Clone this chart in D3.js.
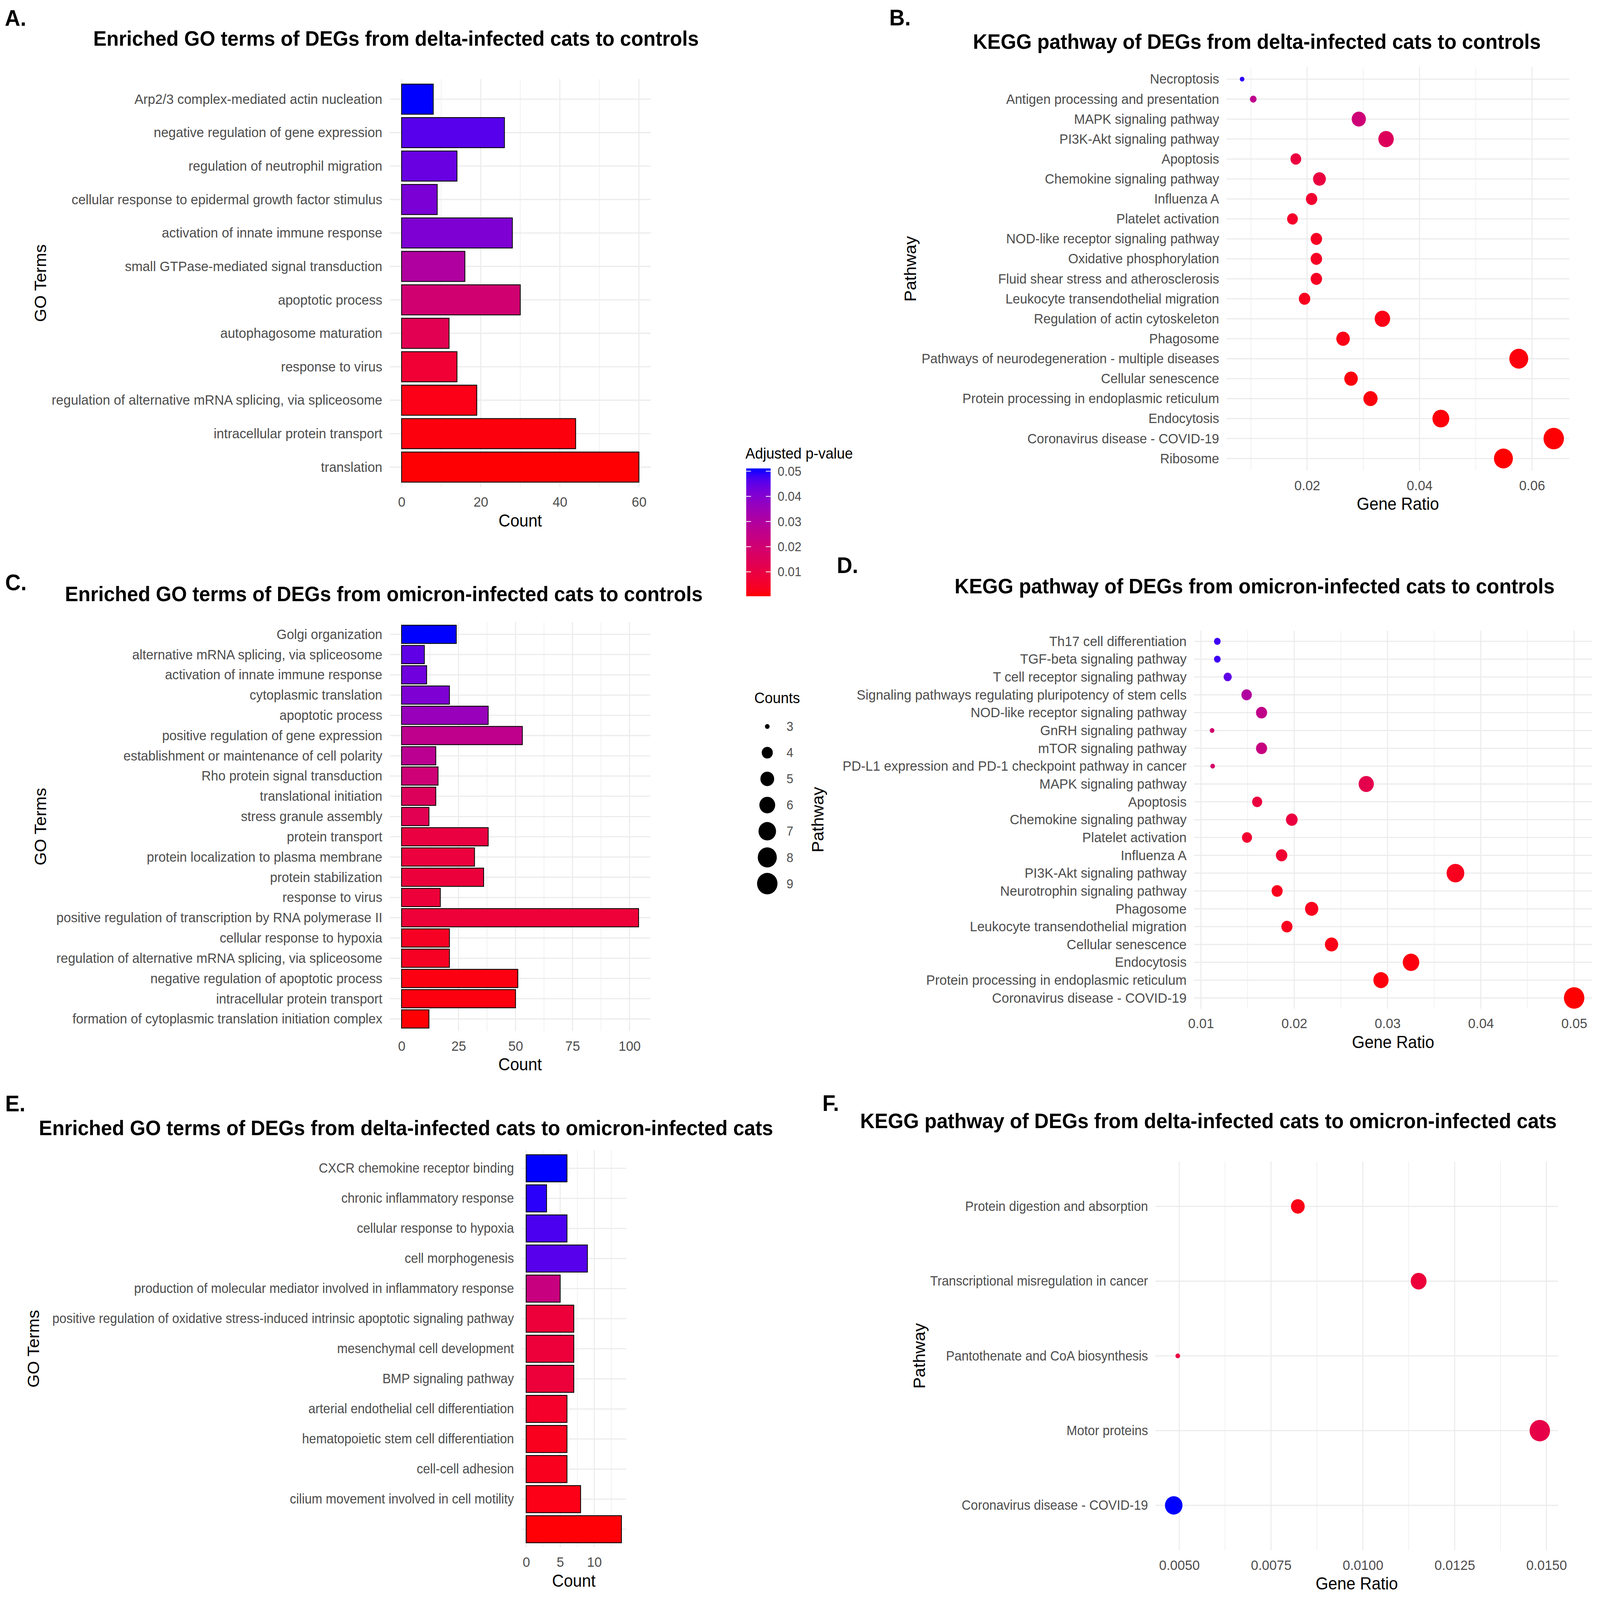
<!DOCTYPE html>
<html>
<head>
<meta charset="utf-8">
<script src="https://cdn.jsdelivr.net/npm/d3@7"></script>
<style>
  html, body { margin: 0; padding: 0; width: 100%; height: 100%; overflow: hidden; background: #fff; }
  svg { display: block; width: 100vw; height: 100vh; }
  text { font-family: "Liberation Sans", Arial, Helvetica, sans-serif; }
</style>
</head>
<body>
<svg id="fig" viewBox="0 0 4327 4114" preserveAspectRatio="none"></svg>
<script>
// ---- data: GO, delta vs controls (A)
const goDeltaTerms = [
  'Arp2/3 complex-mediated actin nucleation', 'negative regulation of gene expression',
  'regulation of neutrophil migration', 'cellular response to epidermal growth factor stimulus',
  'activation of innate immune response', 'small GTPase-mediated signal transduction',
  'apoptotic process', 'autophagosome maturation', 'response to virus',
  'regulation of alternative mRNA splicing, via spliceosome', 'intracellular protein transport',
  'translation'
];
const goDeltaCounts = [8, 26, 14, 9, 28, 16, 30, 12, 14, 19, 44, 60];
const goDeltaPadj = [0.050, 0.046, 0.044, 0.0415, 0.041, 0.030, 0.020, 0.013, 0.007, 0.002, 0.001, 0.0003];
const goDeltaTicks = [0, 20, 40, 60];
const goDeltaMinor = [10, 30, 50];

// ---- data: KEGG, delta vs controls (B)
const keggDeltaPathways = [
  'Necroptosis', 'Antigen processing and presentation', 'MAPK signaling pathway',
  'PI3K-Akt signaling pathway', 'Apoptosis', 'Chemokine signaling pathway', 'Influenza A',
  'Platelet activation', 'NOD-like receptor signaling pathway', 'Oxidative phosphorylation',
  'Fluid shear stress and atherosclerosis', 'Leukocyte transendothelial migration',
  'Regulation of actin cytoskeleton', 'Phagosome',
  'Pathways of neurodegeneration - multiple diseases', 'Cellular senescence',
  'Protein processing in endoplasmic reticulum', 'Endocytosis',
  'Coronavirus disease - COVID-19', 'Ribosome'
];
const keggDeltaRatio = [0.00844, 0.01042, 0.02920, 0.03405, 0.01800, 0.02220, 0.02080, 0.01740,
  0.02165, 0.02165, 0.02165, 0.01955, 0.03340, 0.02640, 0.05766, 0.02782, 0.03128, 0.04380,
  0.06388, 0.05493];
const keggDeltaCounts = [3, 3.1, 5.2, 5.8, 3.9, 4.6, 4.1, 3.9, 4.1, 4.1, 4.1, 4.1, 5.8, 4.9, 7.9,
  4.9, 5.2, 6.6, 9, 7.9];
const keggDeltaPadj = [0.049, 0.026, 0.021, 0.015, 0.009, 0.009, 0.006, 0.005, 0.004, 0.004,
  0.004, 0.003, 0.002, 0.002, 0.001, 0.001, 0.001, 0.0008, 0.0003, 0.0001];
const keggDeltaTicks = [0.02, 0.04, 0.06];
const keggDeltaMinor = [0.01, 0.03, 0.05];

// ---- data: GO, omicron vs controls (C)
const goOmicronTerms = [
  'Golgi organization', 'alternative mRNA splicing, via spliceosome',
  'activation of innate immune response', 'cytoplasmic translation', 'apoptotic process',
  'positive regulation of gene expression', 'establishment or maintenance of cell polarity',
  'Rho protein signal transduction', 'translational initiation', 'stress granule assembly',
  'protein transport', 'protein localization to plasma membrane', 'protein stabilization',
  'response to virus', 'positive regulation of transcription by RNA polymerase II',
  'cellular response to hypoxia', 'regulation of alternative mRNA splicing, via spliceosome',
  'negative regulation of apoptotic process', 'intracellular protein transport',
  'formation of cytoplasmic translation initiation complex'
];
const goOmicronCounts = [24, 10, 11, 21, 38, 53, 15, 16, 15, 12, 38, 32, 36, 17, 104, 21, 21, 51, 50, 12];
const goOmicronPadj = [0.050, 0.045, 0.043, 0.041, 0.036, 0.026, 0.027, 0.021, 0.015, 0.013,
  0.0095, 0.0088, 0.0085, 0.008, 0.0078, 0.004, 0.004, 0.0015, 0.0012, 0.0003];
const goOmicronTicks = [0, 25, 50, 75, 100];
const goOmicronMinor = [12.5, 37.5, 62.5, 87.5];

// ---- data: KEGG, omicron vs controls (D)
const keggOmicronPathways = [
  'Th17 cell differentiation', 'TGF-beta signaling pathway', 'T cell receptor signaling pathway',
  'Signaling pathways regulating pluripotency of stem cells', 'NOD-like receptor signaling pathway',
  'GnRH signaling pathway', 'mTOR signaling pathway',
  'PD-L1 expression and PD-1 checkpoint pathway in cancer', 'MAPK signaling pathway', 'Apoptosis',
  'Chemokine signaling pathway', 'Platelet activation', 'Influenza A', 'PI3K-Akt signaling pathway',
  'Neurotrophin signaling pathway', 'Phagosome', 'Leukocyte transendothelial migration',
  'Cellular senescence', 'Endocytosis', 'Protein processing in endoplasmic reticulum',
  'Coronavirus disease - COVID-19'
];
const keggOmicronRatio = [0.01176, 0.01176, 0.01287, 0.0149, 0.0165, 0.0112, 0.0165, 0.01126,
  0.02772, 0.01603, 0.01974, 0.01494, 0.01865, 0.03728, 0.01817, 0.02187, 0.01922, 0.0240,
  0.03252, 0.0293, 0.05];
const keggOmicronCounts = [3.1, 3.1, 3.3, 3.8, 4, 3, 4, 3, 5.7, 3.7, 4.2, 3.7, 4.1, 7.1, 4, 4.8,
  4, 4.8, 6.4, 5.7, 9];
const keggOmicronPadj = [0.048, 0.048, 0.045, 0.030, 0.025, 0.019, 0.023, 0.018, 0.012, 0.009,
  0.009, 0.006, 0.0065, 0.003, 0.003, 0.003, 0.003, 0.002, 0.001, 0.001, 0.0001];
const keggOmicronTicks = [0.01, 0.02, 0.03, 0.04, 0.05];
const keggOmicronMinor = [0.015, 0.025, 0.035, 0.045];

// ---- data: GO, delta vs omicron (E)
const goDvoTerms = [
  'CXCR chemokine receptor binding', 'chronic inflammatory response', 'cellular response to hypoxia',
  'cell morphogenesis', 'production of molecular mediator involved in inflammatory response',
  'positive regulation of oxidative stress-induced intrinsic apoptotic signaling pathway',
  'mesenchymal cell development', 'BMP signaling pathway', 'arterial endothelial cell differentiation',
  'hematopoietic stem cell differentiation', 'cell-cell adhesion',
  'cilium movement involved in cell motility', ''
];
const goDvoCounts = [6, 3, 6, 9, 5, 7, 7, 7, 6, 6, 6, 8, 14];
const goDvoPadj = [0.050, 0.049, 0.047, 0.046, 0.023, 0.008, 0.008, 0.008, 0.005, 0.003, 0.003, 0.002, 0.0005];
const goDvoTicks = [0, 5, 10];
const goDvoMinor = [2.5, 7.5, 12.5];

// ---- data: KEGG, delta vs omicron (F)
const keggDvoPathways = ['Protein digestion and absorption', 'Transcriptional misregulation in cancer',
  'Pantothenate and CoA biosynthesis', 'Motor proteins', 'Coronavirus disease - COVID-19'];
const keggDvoRatio = [0.00823, 0.01152, 0.00496, 0.01482, 0.00485];
const keggDvoCounts = [5, 6, 3, 9, 7];
const keggDvoPadj = [0.002, 0.008, 0.010, 0.011, 0.050];
const keggDvoTicks = [0.005, 0.0075, 0.01, 0.0125, 0.015];
const keggDvoMinor = [0.00625, 0.00875, 0.01125, 0.01375];

// ---- legends
const padjLegendTicks = [0.01, 0.02, 0.03, 0.04, 0.05];
const padjLegendRange = [0.0003, 0.0511];
const countLegendValues = [3, 4, 5, 6, 7, 8, 9];

// ---------------------------------------------------------------
const svg = d3.select('#fig');
svg.append('rect').attr('width', 4327).attr('height', 4114).attr('fill', '#fff');

const GRID = '#ebebeb', TXT = '#4d4d4d';

const fill = d3.scaleLinear().domain([0, 0.05]).range(['#ff0000', '#0000ff'])
  .interpolate(d3.interpolateLab).clamp(true);

// ggplot area palette: radius linear in sqrt of rescaled count
const sizeT = d3.scaleLinear().domain([3, 9]).range([0, 1]).clamp(true);
const sizeR = d3.scaleLinear().domain([0, 1]).range([6.25, 27.65]);
const radius = c => sizeR(Math.sqrt(sizeT(c)));

function expand(lo, hi) {
  const s = hi - lo;
  return [lo - s * 0.05, hi + s * 0.05];
}

function panel(p) {
  const g = svg.append('g');
  const x = d3.scaleLinear().domain(p.domain).range([p.left, p.right]);
  const y = d3.scalePoint().domain(p.cats).range([p.top, p.bottom]).padding(0.6);

  g.selectAll('line.minor').data(p.minor).join('line').attr('class', 'minor')
    .attr('x1', x).attr('x2', x).attr('y1', p.top).attr('y2', p.bottom)
    .attr('stroke', GRID).attr('stroke-width', 1.4);
  g.selectAll('line.vmajor').data(p.ticks).join('line').attr('class', 'vmajor')
    .attr('x1', x).attr('x2', x).attr('y1', p.top).attr('y2', p.bottom)
    .attr('stroke', GRID).attr('stroke-width', 2.8);
  g.selectAll('line.hmajor').data(p.cats).join('line').attr('class', 'hmajor')
    .attr('x1', p.left).attr('x2', p.right).attr('y1', y).attr('y2', y)
    .attr('stroke', GRID).attr('stroke-width', 2.8);

  const ax = g.append('g').attr('transform', `translate(0,${p.bottom})`)
    .call(d3.axisBottom(x).tickValues(p.ticks).tickFormat(p.fmt).tickSize(0).tickPadding(25));
  ax.select('.domain').remove();
  ax.attr('font-size', 36).attr('font-family', null);
  ax.selectAll('text').attr('fill', TXT);

  const ay = g.append('g').attr('transform', `translate(${p.left},0)`)
    .call(d3.axisLeft(y).tickSize(0).tickPadding(20));
  ay.select('.domain').remove();
  ay.attr('font-size', p.labelSize).attr('font-family', null);
  ay.selectAll('text').attr('fill', TXT);

  g.append('text').attr('x', (p.left + p.right) / 2).attr('y', p.bottom + 101)
    .attr('text-anchor', 'middle').attr('font-size', 44).attr('fill', '#000').text(p.xTitle);
  g.append('text')
    .attr('transform', `translate(${p.yTitleX},${(p.top + p.bottom) / 2}) rotate(-90)`)
    .attr('text-anchor', 'middle').attr('dy', '0.34em').attr('font-size', 44)
    .attr('fill', '#000').text(p.yTitle);

  g.append('text').attr('x', p.titleX).attr('y', p.titleY).attr('text-anchor', 'middle')
    .attr('font-size', 54).attr('font-weight', 'bold').attr('fill', '#000').text(p.title);
  g.append('text').attr('x', p.tagX).attr('y', p.tagY)
    .attr('font-size', 58).attr('font-weight', 'bold').attr('fill', '#000').text(p.tag);

  return {g, x, y};
}

function barPanel(p, terms, counts, padj) {
  const f = panel(Object.assign({cats: terms, domain: expand(0, d3.max(counts)),
    fmt: d3.format('d'), xTitle: 'Count', yTitle: 'GO Terms'}, p));
  const bw = f.y.step() * 0.9;
  f.g.insert('g', 'g').selectAll('rect').data(d3.range(terms.length)).join('rect')
    .attr('x', f.x(0)).attr('y', i => f.y(terms[i]) - bw / 2)
    .attr('width', i => f.x(counts[i]) - f.x(0)).attr('height', bw)
    .attr('fill', i => fill(padj[i])).attr('stroke', '#000').attr('stroke-width', 2.2);
}

function dotPanel(p, paths, ratio, counts, padj) {
  const f = panel(Object.assign({cats: paths, domain: expand(d3.min(ratio), d3.max(ratio)),
    xTitle: 'Gene Ratio', yTitle: 'Pathway'}, p));
  f.g.insert('g', 'g').selectAll('circle').data(d3.range(paths.length)).join('circle')
    .attr('cx', i => f.x(ratio[i])).attr('cy', i => f.y(paths[i]))
    .attr('r', i => radius(counts[i])).attr('fill', i => fill(padj[i]));
}

barPanel({left: 1054, right: 1760, top: 203.4, bottom: 1252.6, ticks: goDeltaTicks,
  minor: goDeltaMinor, labelSize: 36, yTitleX: 110, titleX: 1071, titleY: 118,
  title: 'Enriched GO terms of DEGs from delta-infected cats to controls',
  tag: 'A.', tagX: 13, tagY: 66}, goDeltaTerms, goDeltaCounts, goDeltaPadj);

dotPanel({left: 3317, right: 4244, top: 172.7, bottom: 1209.8, ticks: keggDeltaTicks,
  minor: keggDeltaMinor, fmt: d3.format('.2f'), labelSize: 35.5, yTitleX: 2462,
  titleX: 3399, titleY: 126, title: 'KEGG pathway of DEGs from delta-infected cats to controls',
  tag: 'B.', tagX: 2405, tagY: 65}, keggDeltaPathways, keggDeltaRatio, keggDeltaCounts, keggDeltaPadj);

barPanel({left: 1054, right: 1759, top: 1599.8, bottom: 2651.2, ticks: goOmicronTicks,
  minor: goOmicronMinor, labelSize: 35.5, yTitleX: 110, titleX: 1038, titleY: 1546,
  title: 'Enriched GO terms of DEGs from omicron-infected cats to controls',
  tag: 'C.', tagX: 14, tagY: 1518}, goOmicronTerms, goOmicronCounts, goOmicronPadj);

dotPanel({left: 3229, right: 4306, top: 1621.5, bottom: 2593.5, ticks: keggOmicronTicks,
  minor: keggOmicronMinor, fmt: d3.format('.2f'), labelSize: 36, yTitleX: 2212,
  titleX: 3393, titleY: 1526, title: 'KEGG pathway of DEGs from omicron-infected cats to controls',
  tag: 'D.', tagX: 2263, tagY: 1473}, keggOmicronPathways, keggOmicronRatio, keggOmicronCounts, keggOmicronPadj);

barPanel({left: 1410, right: 1693.5, top: 2957.6, bottom: 3978.4, ticks: goDvoTicks,
  minor: goDvoMinor, labelSize: 34.3, yTitleX: 91, titleX: 1098, titleY: 2919,
  title: 'Enriched GO terms of DEGs from delta-infected cats to omicron-infected cats',
  tag: 'E.', tagX: 14, tagY: 2858}, goDvoTerms, goDvoCounts, goDvoPadj);

dotPanel({left: 3124.7, right: 4213.7, top: 2986.7, bottom: 3986, ticks: keggDvoTicks,
  minor: keggDvoMinor, fmt: d3.format('.4f'), labelSize: 34.5, yTitleX: 2487,
  titleX: 3268, titleY: 2901, title: 'KEGG pathway of DEGs from delta-infected cats to omicron-infected cats',
  tag: 'F.', tagX: 2224, tagY: 2857}, keggDvoPathways, keggDvoRatio, keggDvoCounts, keggDvoPadj);

// ---- colour legend
const leg = svg.append('g');
const ly = d3.scaleLinear().domain([0, 0.05]).range([1535, 1211.6]);
const grad = svg.append('defs').append('linearGradient').attr('id', 'padjGrad')
  .attr('x1', 0).attr('y1', 1).attr('x2', 0).attr('y2', 0);
grad.selectAll('stop').data(d3.range(0, 1.0001, 0.05)).join('stop')
  .attr('offset', t => t)
  .attr('stop-color', t => fill(padjLegendRange[0] + t * (padjLegendRange[1] - padjLegendRange[0])));
leg.append('text').attr('x', 2016).attr('y', 1179).attr('font-size', 39).attr('fill', '#000')
  .text('Adjusted p-value');
leg.append('rect').attr('x', 2018).attr('width', 66)
  .attr('y', ly(padjLegendRange[1])).attr('height', ly(padjLegendRange[0]) - ly(padjLegendRange[1]))
  .attr('fill', 'url(#padjGrad)');
leg.selectAll('line.tl').data(padjLegendTicks).join('line').attr('class', 'tl')
  .attr('x1', 2018).attr('x2', 2031).attr('y1', ly).attr('y2', ly)
  .attr('stroke', '#fff').attr('stroke-width', 2);
leg.selectAll('line.tr').data(padjLegendTicks).join('line').attr('class', 'tr')
  .attr('x1', 2071).attr('x2', 2084).attr('y1', ly).attr('y2', ly)
  .attr('stroke', '#fff').attr('stroke-width', 2);
leg.selectAll('text.tk').data(padjLegendTicks).join('text').attr('class', 'tk')
  .attr('x', 2103).attr('y', ly).attr('dy', '0.35em').attr('font-size', 33).attr('fill', TXT)
  .text(d3.format('.2f'));

// ---- size legend
const sy = d3.scalePoint().domain(countLegendValues).range([1868, 2272]);
leg.append('text').attr('x', 2040).attr('y', 1808).attr('font-size', 39).attr('fill', '#000')
  .text('Counts');
leg.selectAll('circle').data(countLegendValues).join('circle')
  .attr('cx', 2075).attr('cy', sy).attr('r', radius).attr('fill', '#000');
leg.selectAll('text.ct').data(countLegendValues).join('text').attr('class', 'ct')
  .attr('x', 2127).attr('y', sy).attr('dy', '0.35em').attr('font-size', 33).attr('fill', TXT)
  .text(d => d);
</script>
</body>
</html>
